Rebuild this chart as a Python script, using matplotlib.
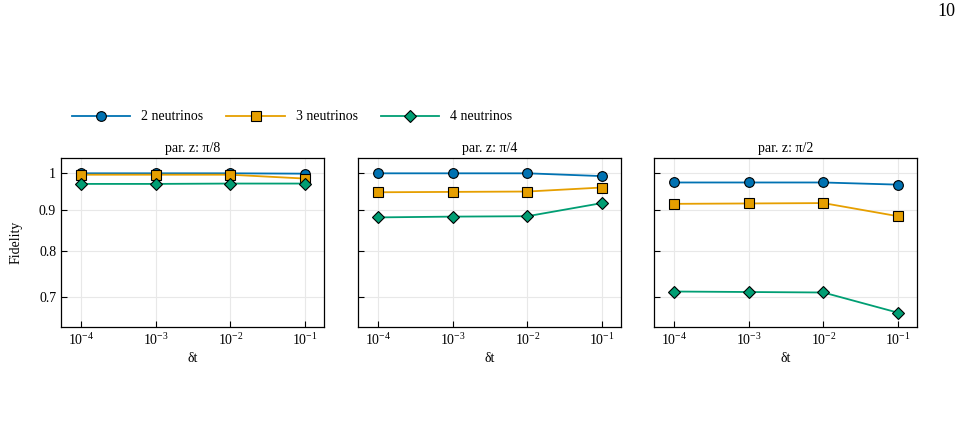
import matplotlib
matplotlib.use('Agg')
import matplotlib.pyplot as plt
from matplotlib.ticker import FixedLocator, FixedFormatter, NullLocator

# data
dts = [1e-4, 1e-3, 1e-2, 1e-1]
titles = ['par. z: \u03c0/8', 'par. z: \u03c0/4', 'par. z: \u03c0/2']
labels = ['2 neutrinos', '3 neutrinos', '4 neutrinos']

fid2 = [[0.999, 0.999, 0.999, 0.998],
        [0.999, 0.999, 0.999, 0.991],
        [0.973, 0.973, 0.973, 0.967]]
fid3 = [[0.995, 0.995, 0.995, 0.984],
        [0.946, 0.947, 0.948, 0.959],
        [0.915, 0.916, 0.917, 0.883]]
fid4 = [[0.969, 0.969, 0.970, 0.970],
        [0.880, 0.882, 0.883, 0.917],
        [0.711, 0.710, 0.709, 0.669]]

yticks = [0.7, 0.8, 0.9, 1.0]
yticklabels = ['0.7', '0.8', '0.9', '1']
xticklabels = ['$\\mathregular{10^{-4}}$', '$\\mathregular{10^{-3}}$',
               '$\\mathregular{10^{-2}}$', '$\\mathregular{10^{-1}}$']

plt.rcParams['font.family'] = ['Liberation Serif', 'DejaVu Serif']
plt.rcParams['mathtext.fontset'] = 'stix'
plt.rcParams['font.size'] = 10

colors = ['#0072B2', '#E69F00', '#009E73']
markers = ['o', 's', 'D']
msizes = [7, 7, 6.5]

fig = plt.figure(figsize=(9.6, 4.3), dpi=100)
W, H = 960., 430.
lefts = [61, 358, 654]
axw = 263
top, bot = 158, 327

axes = []
for i in range(3):
    ax = fig.add_axes([lefts[i]/W, 1 - bot/H, axw/W, (bot-top)/H])
    axes.append(ax)
    series = [fid2[i], fid3[i], fid4[i]]
    for k in range(3):
        ax.plot(dts, series[k], color=colors[k], marker=markers[k], markersize=msizes[k],
                markeredgecolor='black', markeredgewidth=0.8, linewidth=1.3,
                label=labels[k], zorder=3)
    ax.set_xscale('log')
    ax.set_yscale('log')
    ax.set_xlim(10**-4.27, 10**-0.745)
    ax.set_ylim(0.642, 1.044)
    ax.xaxis.set_major_locator(FixedLocator(dts))
    ax.xaxis.set_major_formatter(FixedFormatter(xticklabels))
    ax.xaxis.set_minor_locator(NullLocator())
    ax.yaxis.set_major_locator(FixedLocator(yticks))
    ax.yaxis.set_major_formatter(FixedFormatter(yticklabels))
    ax.yaxis.set_minor_locator(NullLocator())
    ax.tick_params(direction='in', length=4, width=0.8, labelsize=10)
    ax.grid(True, color='#e8e8e8', linewidth=0.8, zorder=0)
    ax.set_axisbelow(True)
    ax.set_title(titles[i], fontsize=10, pad=4)
    ax.set_xlabel('\u03b4t', fontsize=10, labelpad=3)
    for s in ax.spines.values():
        s.set_linewidth(0.9)
    if i == 0:
        ax.set_ylabel('Fidelity', fontsize=10, labelpad=12)
    else:
        ax.set_yticklabels([])

handles, labs = axes[0].get_legend_handles_labels()
fig.legend(handles, labs, loc='center left', bbox_to_anchor=(72/W, 1 - 117/H),
           ncol=3, frameon=False, fontsize=10, handlelength=4.2, columnspacing=1.65,
           borderpad=0, borderaxespad=0)

fig.text(955/W, 1 - 12/H, '10', ha='right', va='center', fontsize=13)

fig.savefig('out.png', dpi=100)
